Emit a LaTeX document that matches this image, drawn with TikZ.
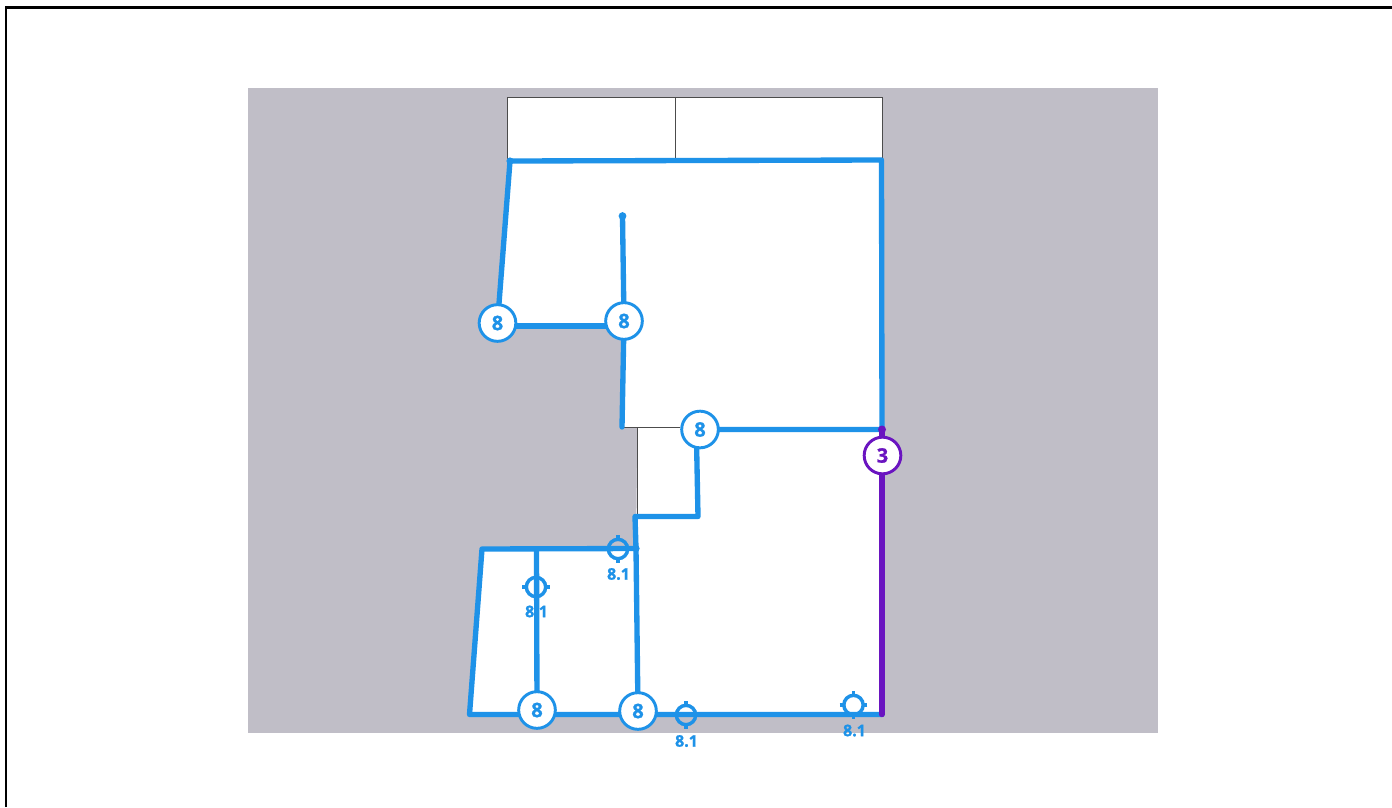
\documentclass[tikz,border=0pt]{standalone}
\usepackage{fontspec}
\setmainfont{Open Sans}[BoldFeatures={FakeBold=1.2}]
\definecolor{bluew}{HTML}{1E92E8}
\definecolor{purw}{HTML}{6A14C0}
\definecolor{greyw}{HTML}{C0BEC7}
\tikzset{
  x=0.75pt,y=-0.75pt,
  wall/.style={draw=bluew,line width=4pt,line cap=round,line join=round},
  pwall/.style={draw=purw,line width=4pt,line cap=round,line join=round},
  thin wall/.style={draw=black!70,line width=0.75pt},
  badge/.style={circle,draw=bluew,line width=2.2pt,fill=white,minimum size=27.5pt,inner sep=0pt,text=bluew,font=\fontsize{15}{16}\selectfont\bfseries},
  pbadge/.style={badge,draw=purw,text=purw},
  target/.style={circle,draw=bluew,line width=2.6pt,minimum size=14.5pt,inner sep=0pt},
  tick/.style={draw=bluew,line width=2.6pt},
  tlabel/.style={text=bluew,inner sep=0pt,font=\fontsize{12}{13}\selectfont\bfseries},
}
\newcommand{\targetticks}[1]{%
  \draw[tick] (#1.north)++(0,-2.5) -- ++(0,5.5);
  \draw[tick] (#1.south)++(0,2.5) -- ++(0,-5.5);
  \draw[tick] (#1.west)++(-2.5,0) -- ++(5.5,0);
  \draw[tick] (#1.east)++(2.5,0) -- ++(-5.5,0);
}
\begin{document}
\begin{tikzpicture}
\useasboundingbox (0,0) rectangle (1392,807);
\fill[white] (0,0) rectangle (1392,807);
\draw[black,line width=2.2pt] (6,807) -- (6,7.5) -- (1392,7.5);
\fill[greyw] (248,88) rectangle (1158,733);
% white rooms
\fill[white] (507.5,97) rectangle (882,160);
\fill[white] (510,160) -- (882,160) -- (882,429) -- (622,427) -- (623,326) -- (498,326) -- cycle;
\fill[white] (637.5,427) -- (882,429) -- (882,714) -- (469,714) -- (482,549) -- (636,548) -- cycle;
% named points
\coordinate (tl) at (510,161);
\coordinate (tr) at (881.5,160);
\coordinate (r1) at (882,429.5);
\coordinate (stub) at (622.5,216);
\coordinate (bot) at (622,427);
\coordinate (c1) at (696.5,440);
\coordinate (j1) at (698,516.5);
\coordinate (j2) at (635,516.5);
\coordinate (j3) at (636,548.5);
\coordinate (k1) at (482,549);
\coordinate (k2) at (469.5,714.5);
\coordinate (br) at (882,714.5);
\coordinate (v1) at (536.5,549);
% badges positions
\coordinate (a0) at (497.5,323);
\coordinate (b0) at (624,321);
\coordinate (c0) at (700,429.5);
\coordinate (d0) at (882.5,455.5);
\coordinate (e0) at (537,710);
\coordinate (f0) at (638,711);
% thin outlines
\draw[thin wall] (507.5,160) -- (507.5,97) -- (882,97) -- (882,160);
\draw[thin wall] (675,97) -- (675,160);
\draw[thin wall] (622,427) -- (680,427);
\draw[thin wall] (637.5,427) -- (637.5,516);
% walls
\draw[wall] (a0) -- (tl) -- (tr) -- (r1) -- (c0);
\draw[wall] (a0 |- 0,326) -- (b0 |- 0,326);
\draw[wall] (stub) -- (b0);
\draw[wall] (b0) -- (bot);
\fill[bluew] (stub) circle (2.9pt);
\fill[bluew] (tl) circle (2.7pt);
\draw[wall] (c1) -- (j1) -- (j2) -- (j3);
\draw[wall] (j3) -- (k1) -- (k2) -- (br);
\draw[wall] (j3) -- (f0);
\draw[wall] (v1) -- (e0);
\fill[bluew] (j3) circle (2.7pt);
\draw[pwall] (r1) -- (br);
\fill[purw] (r1) circle (3pt);
% badges
\node[badge] (a) at (a0) {8};
\node[badge] (b) at (b0) {8};
\node[badge] (c) at (c0) {8};
\node[pbadge] (d) at (d0) {3};
\node[badge] (e) at (e0) {8};
\node[badge] (f) at (f0) {8};
% targets
\node[target] (t1) at (618,549) {}; \targetticks{t1}
\node[target] (t2) at (536,587) {}; \targetticks{t2}
\node[target] (t3) at (686,715) {}; \targetticks{t3}
\node[target] (t4) at (853.5,705) {}; \targetticks{t4}
\node[tlabel] (l1) at (618.5,574) {8.1};
\node[tlabel] (l2) at (536.5,611.5) {8.1};
\node[tlabel] (l3) at (686.5,741) {8.1};
\node[tlabel] (l4) at (854.5,730.5) {8.1};
\end{tikzpicture}
\end{document}
